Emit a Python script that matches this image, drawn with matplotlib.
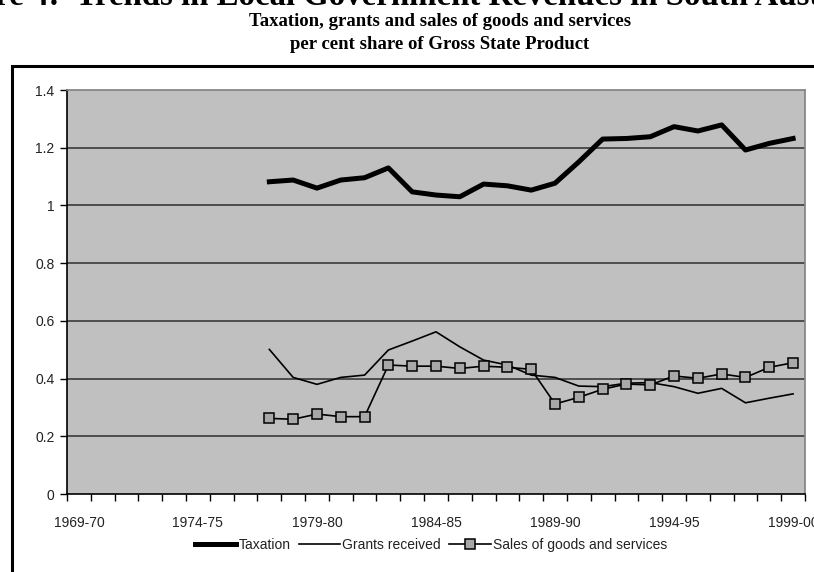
import matplotlib
matplotlib.use("Agg")
import matplotlib.pyplot as plt
from matplotlib.patches import Rectangle

# financial years on the category axis
years = ["1969-70", "1970-71", "1971-72", "1972-73", "1973-74", "1974-75",
         "1975-76", "1976-77", "1977-78", "1978-79", "1979-80", "1980-81",
         "1981-82", "1982-83", "1983-84", "1984-85", "1985-86", "1986-87",
         "1987-88", "1988-89", "1989-90", "1990-91", "1991-92", "1992-93",
         "1993-94", "1994-95", "1995-96", "1996-97", "1997-98", "1998-99",
         "1999-00"]
labelled_years = ["1969-70", "1974-75", "1979-80", "1984-85", "1989-90",
                  "1994-95", "1999-00"]

# series only run from 1977-78 onwards
data_years = years[8:]
taxation = [1.082, 1.088, 1.060, 1.088, 1.096, 1.130, 1.047, 1.036, 1.030,
            1.074, 1.068, 1.053, 1.077, 1.151, 1.230, 1.232, 1.238, 1.273,
            1.258, 1.279, 1.192, 1.215, 1.232]
grants = [0.501, 0.404, 0.380, 0.404, 0.412, 0.499, 0.530, 0.562, 0.510,
          0.464, 0.447, 0.412, 0.404, 0.374, 0.372, 0.384, 0.386, 0.372,
          0.349, 0.366, 0.316, 0.332, 0.347]
sales = [0.262, 0.259, 0.277, 0.268, 0.268, 0.447, 0.443, 0.443, 0.435,
         0.443, 0.439, 0.432, 0.312, 0.335, 0.363, 0.381, 0.378, 0.409,
         0.401, 0.416, 0.404, 0.439, 0.455]
yticks = [0, 0.2, 0.4, 0.6, 0.8, 1.0, 1.2, 1.4]
ytick_labels = ["0", "0.2", "0.4", "0.6", "0.8", "1", "1.2", "1.4"]

W, H = 814, 572
SERIF = "Liberation Serif"
SANS = "Liberation Sans"

fig = plt.figure(figsize=(W / 100, H / 100), dpi=100)

# outer chart frame (runs off the right and bottom of the page)
fig.patches.append(Rectangle((12 / W, -0.2), 1.2, 1.2 - 66 / H,
                             transform=fig.transFigure, fill=False,
                             edgecolor="black", linewidth=2.2))

# page heading, only its lower edge falls on the page
fig.text(408 / W, 1 - 4.5 / H,
         "Figure 4:  Trends in Local Government Revenues in South Australia",
         ha="center", va="baseline", fontsize=23.7, weight="bold", family=SERIF)
fig.text(440 / W, 1 - 26 / H, "Taxation, grants and sales of goods and services",
         ha="center", va="baseline", fontsize=13.5, weight="bold", family=SERIF)
fig.text(440 / W, 1 - 49 / H, "per cent share of Gross State Product",
         ha="center", va="baseline", fontsize=13.5, weight="bold", family=SERIF)

ax = fig.add_axes([67 / W, (H - 494) / H, (805 - 67) / W, (494 - 90) / H])
ax.set_facecolor("#c0c0c0")

x = [years.index(y) for y in data_years]
ax.plot(x, taxation, color="black", lw=3.6, solid_joinstyle="round",
        label="Taxation")
ax.plot(x, grants, color="black", lw=1.2, label="Grants received")
ax.plot(x, sales, color="black", lw=1.2, marker="s", markersize=7,
        markerfacecolor="#a8a8a8", markeredgecolor="black", markeredgewidth=1.1,
        label="Sales of goods and services")

ax.set_xlim(-0.5, len(years) - 0.5)
ax.set_ylim(0, 1.4)

# gridlines at the inner y ticks
for yv in yticks[1:-1]:
    ax.axhline(yv, color="#3a3a3a", lw=1.2, zorder=0.5)

ax.set_yticks(yticks)
ax.set_yticklabels(ytick_labels)
# tick marks sit between categories, labels every fifth year
ax.set_xticks([i - 0.5 for i in range(len(years) + 1)])
ax.set_xticklabels([])
ax.set_xticks([years.index(y) for y in labelled_years], minor=True)
ax.set_xticklabels(labelled_years, minor=True)
ax.tick_params(axis="x", which="major", direction="out", length=5, width=1,
               color="black")
ax.tick_params(axis="x", which="minor", length=0, pad=16)
ax.tick_params(axis="y", direction="out", length=5, width=1, pad=4)
for lab in ax.get_xticklabels(minor=True) + ax.get_yticklabels():
    lab.set_fontfamily(SANS)
    lab.set_fontsize(10)
    lab.set_color("#222222")

for side in ("top", "right"):
    ax.spines[side].set_color("#808080")
    ax.spines[side].set_linewidth(1.2)
for side in ("left", "bottom"):
    ax.spines[side].set_color("black")
    ax.spines[side].set_linewidth(1.2)

handles, labels = ax.get_legend_handles_labels()
leg = fig.legend(handles, labels, loc="center",
                 bbox_to_anchor=(431 / W, 1 - 545 / H), ncol=3, frameon=False,
                 handlelength=3.0, handletextpad=0.15, columnspacing=0.6,
                 prop={"family": SANS, "size": 10})
for t in leg.get_texts():
    t.set_color("#222222")

fig.savefig("out.png", dpi=100)
